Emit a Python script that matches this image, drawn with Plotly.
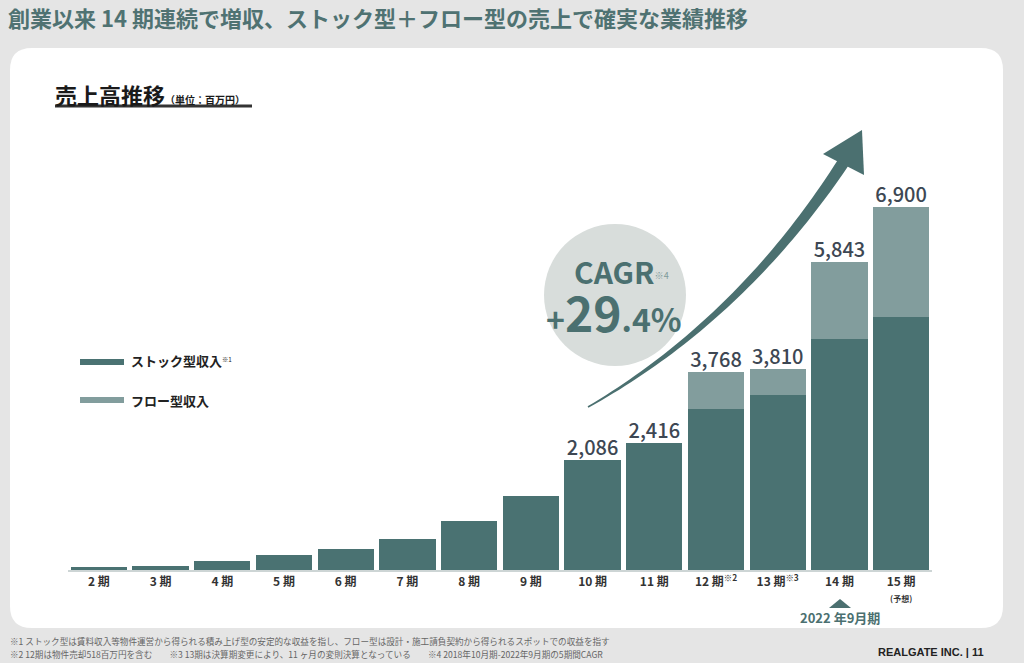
import plotly.graph_objects as go
import numpy as np

# ---------------- data ----------------
periods = ["2 期", "3 期", "4 期", "5 期", "6 期", "7 期", "8 期", "9 期",
           "10 期", "11 期", "12 期", "13 期", "14 期", "15 期"]
tick_text = ["2 期", "3 期", "4 期", "5 期", "6 期", "7 期", "8 期", "9 期",
             "10 期", "11 期", "12 期<sup>※2</sup>", "13 期<sup>※3</sup>", "14 期",
             "15 期<br><span style='font-size:8px'>(予想)</span>"]
stock = [57, 70, 165, 279, 393, 595, 937, 1406, 2086, 2416, 3065, 3319, 4395, 4800]
flow = [0, 0, 0, 0, 0, 0, 0, 0, 0, 0, 703, 491, 1448, 2100]
totals = [57, 70, 165, 279, 393, 595, 937, 1406, 2086, 2416, 3768, 3810, 5843, 6900]
label_idx = [8, 9, 10, 11, 12, 13]

STOCK_C = "#4a7272"
FLOW_C = "#829d9d"
TEAL = "#4b7070"
FONT = "Noto Sans CJK JP"

W, H = 1024, 663
L, R, T, B = 68, 932, 120, 570


def px(x):
    return (x - L) / (R - L)


def py(y):
    return (B - y) / (B - T)


fig = go.Figure()
fig.add_bar(x=periods, y=stock, marker_color=STOCK_C, marker_line_width=0,
            name="ストック型収入", showlegend=False)
fig.add_bar(x=periods, y=flow, marker_color=FLOW_C, marker_line_width=0,
            name="フロー型収入", showlegend=False)
fig.add_scatter(x=[periods[i] for i in label_idx], y=[totals[i] for i in label_idx],
                mode="text", text=[f"{totals[i]:,}" for i in label_idx],
                textposition="top center",
                textfont=dict(family=FONT, size=20, color="#3d4753", weight=500),
                showlegend=False, hoverinfo="skip")

shapes = []

# background card (rounded rect) in pixel space -> paper
cx0, cy0, cx1, cy1, rr = 10, 48, 1003, 628, 22


def P(x, y):
    return f"{px(x):.5f},{py(y):.5f}"


card = (f"M {P(cx0 + rr, cy0)} L {P(cx1 - rr, cy0)} Q {P(cx1, cy0)} {P(cx1, cy0 + rr)} "
        f"L {P(cx1, cy1 - rr)} Q {P(cx1, cy1)} {P(cx1 - rr, cy1)} "
        f"L {P(cx0 + rr, cy1)} Q {P(cx0, cy1)} {P(cx0, cy1 - rr)} "
        f"L {P(cx0, cy0 + rr)} Q {P(cx0, cy0)} {P(cx0 + rr, cy0)} Z")
shapes.append(dict(type="path", path=card, xref="paper", yref="paper",
                   fillcolor="white", line_width=0, layer="below"))

# CAGR circle
ccx, ccy, cr = 615, 295, 71
shapes.append(dict(type="circle", xref="paper", yref="paper",
                   x0=px(ccx - cr), x1=px(ccx + cr), y0=py(ccy + cr), y1=py(ccy - cr),
                   fillcolor="#d8dddb", line_width=0, layer="below"))

# curved tapered arrow
P0 = np.array([588.0, 407.0])
P1 = np.array([740.0, 320.0])
P2 = np.array([843.0, 163.0])
ts = np.linspace(0, 1, 50)
left, right = [], []
for t in ts:
    pt = (1 - t) ** 2 * P0 + 2 * (1 - t) * t * P1 + t ** 2 * P2
    d = 2 * (1 - t) * (P1 - P0) + 2 * t * (P2 - P1)
    d = d / np.linalg.norm(d)
    n = np.array([-d[1], d[0]])
    w = 0.8 + 5.2 * t
    left.append(pt + n * w)
    right.append(pt - n * w)
pts = left + right[::-1]
arrow = "M " + " L ".join(P(p[0], p[1]) for p in pts) + " Z"
shapes.append(dict(type="path", path=arrow, xref="paper", yref="paper",
                   fillcolor=TEAL, line_width=0))
head = f"M {P(823, 154)} L {P(862, 130)} L {P(864, 175)} Z"
shapes.append(dict(type="path", path=head, xref="paper", yref="paper",
                   fillcolor=TEAL, line_width=0))

# subtitle underline
shapes.append(dict(type="line", xref="paper", yref="paper",
                   x0=px(55), x1=px(252), y0=py(106), y1=py(106),
                   line=dict(color="#333333", width=3)))

# legend swatches
shapes.append(dict(type="rect", xref="paper", yref="paper",
                   x0=px(80), x1=px(124), y0=py(365), y1=py(359),
                   fillcolor=STOCK_C, line_width=0))
shapes.append(dict(type="rect", xref="paper", yref="paper",
                   x0=px(80), x1=px(124), y0=py(403), y1=py(397),
                   fillcolor=FLOW_C, line_width=0))

# triangle under 14期
tri = f"M {P(829, 608)} L {P(851, 608)} L {P(840, 599)} Z"
shapes.append(dict(type="path", path=tri, xref="paper", yref="paper",
                   fillcolor=TEAL, line_width=0))

annotations = []


def ann(text, x, y, size, color="#222222", xanchor="left", yanchor="middle",
        family=FONT, **kw):
    annotations.append(dict(text=text, x=px(x), y=py(y), xref="paper", yref="paper",
                            showarrow=False, xanchor=xanchor, yanchor=yanchor,
                            font=dict(family=family, size=size, color=color, **kw)))


ann("<b>創業以来 14 期連続で増収、ストック型＋フロー型の売上で確実な業績推移</b>",
    6, 17, 22, color="#4f7272")
ann("<b>売上高推移</b><span style='font-size:10px'><b>（単位：百万円）</b></span>",
    53, 94, 22, color="#1a1a1a")
ann("<b>ストック型収入</b><span style='font-size:9px'><sup>※1</sup></span>",
    129, 360, 13, color="#222222")
ann("<b>フロー型収入</b>", 129, 400, 13, color="#222222")
ann("<b>CAGR</b><span style='font-size:13px;color:#7f9a9a'><sup>※4</sup></span>",
    621, 271, 30, color=TEAL, xanchor="center")
ann("<b>+<span style='font-size:48px'>29</span>.4%</b>", 614, 311, 32,
    color=TEAL, xanchor="center")
ann("<b>2022 年9月期</b>", 840, 617, 13, color=TEAL, xanchor="center")
ann("※1 ストック型は賃料収入等物件運営から得られる積み上げ型の安定的な収益を指し、"
    "フロー型は設計・施工請負契約から得られるスポットでの収益を指す",
    8, 641, 8.6, color="#666666")
ann("※2 12期は物件売却518百万円を含む　　※3 13期は決算期変更により、11 ヶ月の変則決算となっている"
    "　　※4 2018年10月期-2022年9月期の5期間CAGR",
    8, 654, 8.6, color="#666666")
ann("<b>REALGATE INC. | 11</b>", 986, 652, 11, color="#222222", xanchor="right",
    family="Liberation Sans")

fig.update_layout(
    width=W, height=H, autosize=False,
    margin=dict(l=L, r=W - R, t=T, b=H - B, pad=0),
    paper_bgcolor="#e5e5e5", plot_bgcolor="rgba(0,0,0,0)",
    barmode="stack", bargap=0.09,
    shapes=shapes, annotations=annotations,
    font=dict(family=FONT),
    xaxis=dict(type="category", tickmode="array", tickvals=periods, ticktext=tick_text,
               range=[-0.5, len(periods) - 0.5],
               showgrid=False, zeroline=False, showline=True, linecolor="#cdd5d5",
               linewidth=2, ticks="", fixedrange=True,
               tickfont=dict(family=FONT, size=12, color="#333333", weight="bold")),
    yaxis=dict(range=[0, 8550], visible=False, showgrid=False, zeroline=False,
               fixedrange=True),
    showlegend=False,
)
fig.update_traces(cliponaxis=False, selector=dict(type="scatter"))

fig.write_html("out.html", config={"displayModeBar": False},
               post_script="document.body.style.margin='0';document.body.style.padding='0';"
                           "document.body.style.overflow='hidden';")
